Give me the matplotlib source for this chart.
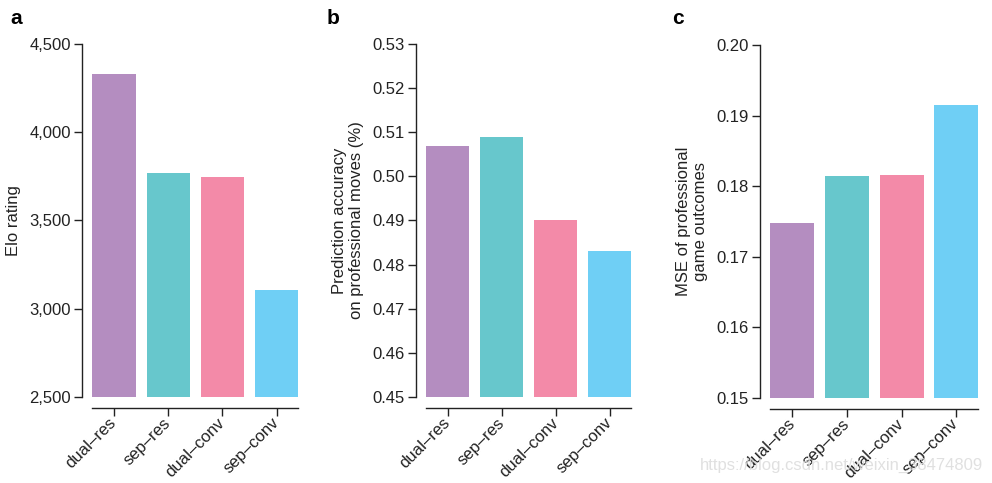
import matplotlib
matplotlib.use("Agg")
import matplotlib.pyplot as plt

plt.rcParams['font.family'] = ['Liberation Sans', 'DejaVu Sans']

# 模型名稱與顏色
models = ['dual–res', 'sep–res', 'dual–conv', 'sep–conv']
colors = ['#b48dc0', '#67c7cc', '#f38aa8', '#6fcff5']

# 各面板數據
elo = [4330, 3769, 3746, 3106]
accuracy = [0.5069, 0.5089, 0.4901, 0.4831]
mse = [0.1748, 0.1814, 0.1816, 0.1915]

elo_ticks = [2500, 3000, 3500, 4000, 4500]
elo_ticklabels = ['2,500', '3,000', '3,500', '4,000', '4,500']
acc_ticks = [0.45, 0.46, 0.47, 0.48, 0.49, 0.50, 0.51, 0.52, 0.53]
mse_ticks = [0.15, 0.16, 0.17, 0.18, 0.19, 0.20]

fig = plt.figure(figsize=(9.92, 4.83), dpi=100)

panels = [
    # (位置, 數據, 刻度, 刻度標籤, y 標籤, 面板字母, 字母位置)
    ([0.0827, 0.178, 0.218, 0.731], elo, elo_ticks, elo_ticklabels,
     'Elo rating', 'a', 0.010),
    ([0.4194, 0.178, 0.217, 0.731], accuracy, acc_ticks,
     ['%.2f' % t for t in acc_ticks],
     'Prediction accuracy\non professional moves (%)', 'b', 0.329),
    ([0.7661, 0.176, 0.220, 0.731], mse, mse_ticks,
     ['%.2f' % t for t in mse_ticks],
     'MSE of professional\ngame outcomes', 'c', 0.678),
]

for rect, values, ticks, ticklabels, ylabel, letter, lx in panels:
    ax = fig.add_axes(rect)
    x = list(range(len(models)))
    ax.bar(x, [v - ticks[0] for v in values], bottom=ticks[0], width=0.8,
           color=colors)
    ax.set_ylim(ticks[0], ticks[-1])
    ax.set_xlim(-0.59, 3.4)
    ax.set_yticks(ticks)
    ax.set_yticklabels(ticklabels)
    ax.set_xticks(x)
    ax.set_xticklabels(models)

    # 邊框設定
    ax.spines['top'].set_visible(False)
    ax.spines['right'].set_visible(False)
    ax.spines['bottom'].set_position(('outward', 8))
    ax.spines['bottom'].set_bounds(-0.4, 3.4)
    for s in ('left', 'bottom'):
        ax.spines[s].set_linewidth(1.0)
        ax.spines[s].set_color('#222222')

    ax.tick_params(axis='both', length=6, width=1.0, color='#222222',
                   labelsize=12, labelcolor='#222222', pad=2)
    ax.tick_params(axis='x', pad=3)
    # 旋轉 x 軸標籤
    for lab in ax.get_xticklabels():
        lab.set_rotation(45)
        lab.set_ha('right')
        lab.set_va('center')
        lab.set_rotation_mode('anchor')
    ax.set_ylabel(ylabel, fontsize=12, color='#222222', labelpad=6)

    fig.text(lx, 0.962, letter, fontsize=15, fontweight='bold',
             va='center', ha='left')

# 浮水印
fig.text(0.991, 0.027, 'https://blog.csdn.net/weixin_38474809',
         fontsize=12, color='#dddddd', ha='right', va='baseline', alpha=0.9)

fig.savefig('out.png', dpi=100)
